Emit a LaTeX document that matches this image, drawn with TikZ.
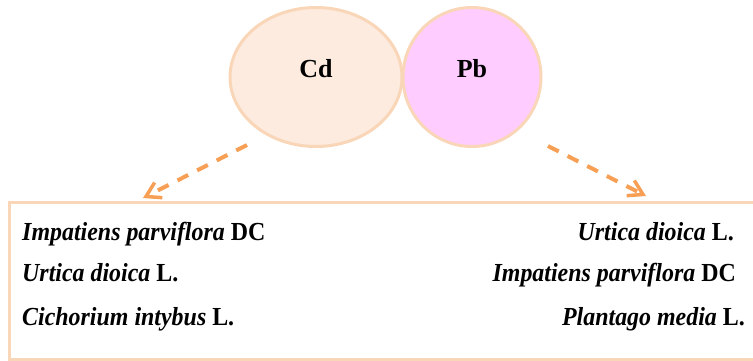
\documentclass[tikz,border=0pt]{standalone}
\usepackage{fontspec}
\setmainfont{Liberation Serif}
\newfontfamily\condserif[FakeStretch=0.92]{Liberation Serif}
\usetikzlibrary{shapes.geometric,arrows.meta}
\definecolor{peachfill}{HTML}{FCEBDE}
\definecolor{peachline}{HTML}{FAD6B8}
\definecolor{pinkfill}{HTML}{FFCCFF}
\definecolor{arrowcol}{HTML}{F7A055}
\begin{document}
\begin{tikzpicture}[x=1pt,y=-1pt,
  metal/.style={ellipse,draw=peachline,line width=3pt,inner sep=0pt},
  metaltext/.style={inner sep=0pt,font=\bfseries\fontsize{26}{28}\selectfont},
  species/.style={inner sep=0pt,font=\condserif\bfseries\fontsize{26}{28}\selectfont},
  dasharrow/.style={draw=arrowcol,line width=4pt,dash pattern=on 12pt off 10pt,-{Straight Barb[length=14pt,width=17pt,line width=3.5pt]}}]
\useasboundingbox (0,0) rectangle (753,361);
\clip (0,0) rectangle (753,361);
\node[metal,fill=peachfill,minimum width=172pt,minimum height=139pt] (cd) at (316,77) {};
\node[metal,fill=pinkfill,minimum width=138pt,minimum height=139pt] (pb) at (472,77) {};
\node[metaltext] (cdlabel) at ([yshift=8pt]cd.center) {Cd};
\node[metaltext] (pblabel) at ([yshift=8pt]pb.center) {Pb};
\node[draw=peachline,line width=3pt,minimum width=760pt,minimum height=157pt,anchor=north west,inner sep=0pt] (box) at (8,201) {};
\coordinate (cdout) at (247,145);
\coordinate (cdin) at (143,198);
\coordinate (pbout) at (548,146);
\coordinate (pbin) at (646,196);
\draw[dasharrow] (cdout) -- (cdin);
\draw[dasharrow] (pbout) -- (pbin);
\node[species,anchor=base west] (l1) at (22,240) {\textit{Impatiens parviflora} DC};
\node[species,anchor=base west] (l2) at (22,281) {\textit{Urtica dioica} L.};
\node[species,anchor=base west] (l3) at (22,325) {\textit{Cichorium intybus} L.};
\node[species,anchor=base east] (r1) at (734,240) {\textit{Urtica dioica} L.};
\node[species,anchor=base east] (r2) at (736,281) {\textit{Impatiens parviflora} DC};
\node[species,anchor=base east] (r3) at (745,325) {\textit{Plantago media} L.};
\end{tikzpicture}
\end{document}
